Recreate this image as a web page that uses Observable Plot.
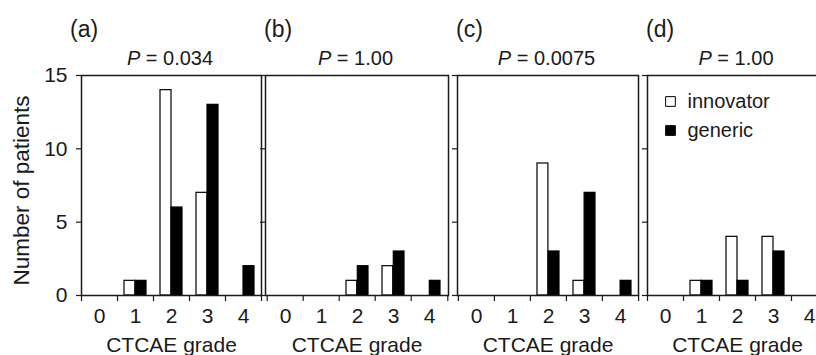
<!DOCTYPE html>
<html>
<head>
<meta charset="utf-8">
<script src="https://cdn.jsdelivr.net/npm/d3@7"></script>
<script src="https://cdn.jsdelivr.net/npm/@observablehq/plot@0.6"></script>
<style>
  html, body { margin: 0; padding: 0; background: #fff; overflow: hidden; }
  #chart { position: relative; width: 816px; height: 355px; overflow: hidden; }
  #chart svg { position: absolute; top: 0; max-width: none; }
</style>
</head>
<body>
<div id="chart"></div>
<script>
// ---- data ----
const grades = [0, 1, 2, 3, 4];
const panelLetters = ["(a)", "(b)", "(c)", "(d)"];
const pValues = ["0.034", "1.00", "0.0075", "1.00"];
const innovator = [
  [0, 1, 14, 7, 0],
  [0, 0, 1, 2, 0],
  [0, 0, 9, 1, 0],
  [0, 1, 4, 4, 0]
];
const generic = [
  [0, 1, 6, 13, 2],
  [0, 0, 2, 3, 1],
  [0, 0, 3, 7, 1],
  [0, 1, 1, 3, 0]
];
const yTicks = [0, 5, 10, 15];
const seriesNames = ["innovator", "generic"];
const xLabel = "CTCAE grade";
const yLabel = "Number of patients";

// ---- layout ----
const layout = [
  {left: 81, w: 180},
  {left: 265, w: 183},
  {left: 457, w: 181},
  {left: 647, w: 180}
];
const FONT = "'Liberation Sans', Arial, sans-serif";
const INK = "#1a1a1a";
const container = document.getElementById("chart");

layout.forEach((L, i) => {
  const mL = i === 0 ? L.left : 8;
  const mR = 3;
  const bw = L.w / 5;
  const inn = grades.map((g, k) => ({grade: g, value: innovator[i][k]})).filter(d => d.value > 0);
  const gen = grades.map((g, k) => ({grade: g, value: generic[i][k]})).filter(d => d.value > 0);
  const marks = [
    Plot.barY(inn, {x: "grade", y: "value", fill: "white", stroke: "black", strokeWidth: 1.2, insetLeft: 7, insetRight: bw / 2}),
    Plot.barY(gen, {x: "grade", y: "value", fill: "black", stroke: "black", strokeWidth: 1.2, insetLeft: bw / 2, insetRight: 7}),
    Plot.frame({stroke: INK, strokeWidth: 1.5}),
    Plot.axisX({ticks: grades, tickSize: 0, tickPadding: 13, fontSize: 21, fill: INK,
      label: xLabel, labelAnchor: "center", labelOffset: 56, labelArrow: "none"}),
    Plot.axisX({ticks: grades, tickSize: 6, tickFormat: () => "", dx: -bw / 2, label: null, stroke: INK, strokeWidth: 1.2}),
    Plot.axisX({ticks: [4], tickSize: 6, tickFormat: () => "", dx: bw / 2, label: null, stroke: INK, strokeWidth: 1.2}),
    Plot.axisY({ticks: yTicks, tickSize: 5, tickPadding: 9, fontSize: 21, fill: INK, stroke: INK, strokeWidth: 1.2,
      tickFormat: i === 0 ? (d => String(d)) : (() => ""), label: null})
  ];
  if (i === 0) {
    marks.push(Plot.text([yLabel], {frameAnchor: "left", rotate: -90, dx: -60, dy: 5, text: d => d,
      textAnchor: "middle", lineAnchor: "middle", fontSize: 22.5, fill: INK}));
  }
  if (i === 3) {
    seriesNames.forEach((s, k) => {
      marks.push(Plot.dot([s], {frameAnchor: "top-left", dx: 23, dy: 26 + k * 29, symbol: "square", r: 5.5,
        fill: k === 0 ? "white" : "black", stroke: "black", strokeWidth: 1}));
      marks.push(Plot.text([s], {frameAnchor: "top-left", dx: 40, dy: 26 + k * 29, text: d => d,
        textAnchor: "start", lineAnchor: "middle", fontSize: 20, fill: INK}));
    });
  }
  const svg = Plot.plot({
    width: mL + L.w + mR,
    height: 355,
    marginTop: 75,
    marginBottom: 60,
    marginLeft: mL,
    marginRight: mR,
    x: {domain: grades, padding: 0, axis: null},
    y: {domain: [0, 15], axis: null},
    style: {background: "none", overflow: "visible", fontFamily: FONT, color: INK},
    marks
  });
  svg.style.left = (L.left - mL) + "px";
  const s = d3.select(svg);
  s.append("text")
    .attr("x", i === 0 ? mL - 11 : mL - 1)
    .attr("y", 37)
    .attr("text-anchor", "start")
    .attr("font-size", 23)
    .attr("font-family", FONT)
    .attr("fill", INK)
    .text(panelLetters[i]);
  const t = s.append("text")
    .attr("x", mL + L.w / 2 - 1)
    .attr("y", 65)
    .attr("text-anchor", "middle")
    .attr("font-size", 20)
    .attr("font-family", FONT)
    .attr("fill", INK);
  t.append("tspan").attr("font-style", "italic").text("P");
  t.append("tspan").text(" = " + pValues[i]);
  container.appendChild(svg);
});
</script>
</body>
</html>
